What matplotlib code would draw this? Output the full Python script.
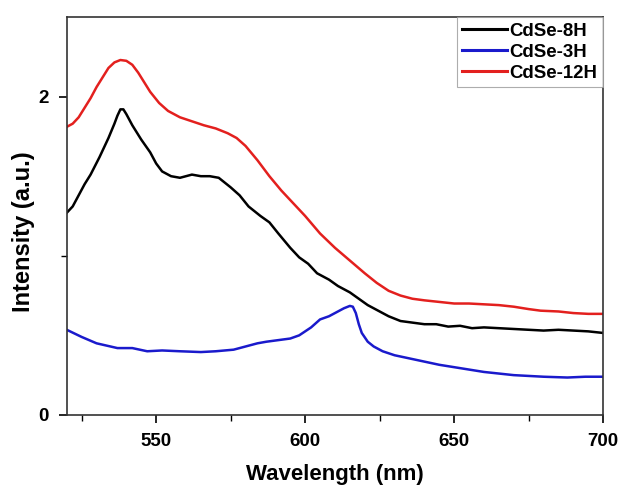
import matplotlib
matplotlib.use("Agg")
import matplotlib.pyplot as plt
from matplotlib.ticker import MultipleLocator

plt.rcParams["font.family"] = ["Liberation Sans", "DejaVu Sans"]
plt.rcParams["font.weight"] = "bold"

# =========================================================
# Data
# =========================================================

wl_8h = [520, 522, 524, 526, 528, 531, 534, 536, 537, 538, 539, 540, 542, 545, 548,
         550, 552, 555, 558, 560, 562, 565, 568, 571, 575, 578, 581, 585, 588,
         591, 595, 598, 601, 604, 608, 611, 615, 618, 621, 624, 628, 632, 636,
         640, 644, 648, 652, 656, 660, 665, 670, 675, 680, 685, 690, 695, 700]
int_8h = [1.27, 1.31, 1.38, 1.45, 1.51, 1.62, 1.74, 1.83, 1.88, 1.92, 1.92, 1.89, 1.82, 1.73, 1.65,
          1.58, 1.53, 1.50, 1.49, 1.50, 1.51, 1.50, 1.50, 1.49, 1.43, 1.38, 1.31, 1.25, 1.21,
          1.14, 1.05, 0.99, 0.95, 0.89, 0.85, 0.81, 0.77, 0.73, 0.69, 0.66, 0.62, 0.59, 0.58,
          0.57, 0.57, 0.555, 0.56, 0.545, 0.55, 0.545, 0.54, 0.535, 0.53, 0.535, 0.53, 0.525, 0.515]

wl_3h = [520, 525, 530, 537, 542, 547, 552, 558, 565, 570, 576, 580, 584, 587,
         591, 595, 598, 602, 605, 608, 611, 613, 615, 616, 617, 618, 619, 621,
         623, 626, 630, 635, 640, 645, 650, 655, 660, 665, 670, 675, 680, 688,
         694, 700]
int_3h = [0.535, 0.49, 0.45, 0.42, 0.42, 0.40, 0.405, 0.40, 0.395, 0.40, 0.41, 0.43, 0.45, 0.46,
          0.47, 0.48, 0.50, 0.55, 0.60, 0.62, 0.65, 0.67, 0.685, 0.68, 0.64, 0.57, 0.515, 0.46,
          0.43, 0.40, 0.375, 0.355, 0.335, 0.315, 0.30, 0.285, 0.27, 0.26, 0.25, 0.245, 0.24, 0.235,
          0.24, 0.24]

wl_12h = [520, 522, 524, 526, 528, 530, 532, 534, 536, 538, 540, 542, 544, 546,
          548, 551, 554, 558, 562, 566, 570, 574, 577, 580, 584, 588, 592, 596,
          600, 605, 610, 615, 620, 624, 628, 632, 636, 640, 645, 650, 655, 660,
          665, 670, 675, 679, 685, 690, 695, 700]
int_12h = [1.81, 1.83, 1.87, 1.93, 1.99, 2.06, 2.12, 2.18, 2.215, 2.23, 2.225, 2.20, 2.15, 2.09,
           2.03, 1.96, 1.91, 1.87, 1.845, 1.82, 1.80, 1.77, 1.74, 1.69, 1.60, 1.50, 1.41, 1.33,
           1.25, 1.14, 1.05, 0.97, 0.89, 0.83, 0.78, 0.75, 0.73, 0.72, 0.71, 0.70, 0.70, 0.695,
           0.69, 0.68, 0.665, 0.655, 0.65, 0.64, 0.635, 0.635]

SERIES = [
    ("CdSe-8H", wl_8h, int_8h, "#000000"),
    ("CdSe-3H", wl_3h, int_3h, "#1a1acc"),
    ("CdSe-12H", wl_12h, int_12h, "#e3201e"),
]


# =========================================================
# Plot
# =========================================================

fig = plt.figure(figsize=(6.18, 4.87), dpi=100)
ax = fig.add_axes([0.108, 0.148, 0.868, 0.817])

for label, x, y, color in SERIES:
    ax.plot(x, y, color=color, lw=1.8, label=label)

ax.set_xlim(520, 700)
ax.set_ylim(0, 2.5)
ax.xaxis.set_major_locator(MultipleLocator(50))
ax.xaxis.set_minor_locator(MultipleLocator(25))
ax.set_yticks([0, 2])
ax.set_yticks([1], minor=True)

ax.tick_params(which="major", direction="out", length=6, width=1.2,
               labelsize=13.5, pad=7)
ax.tick_params(which="minor", direction="out", length=4, width=1.0)
for lab in ax.get_xticklabels() + ax.get_yticklabels():
    lab.set_fontweight("bold")
for sp in ax.spines.values():
    sp.set_linewidth(1.2)
    sp.set_color("#333333")

ax.set_xlabel("Wavelength (nm)", fontsize=16, fontweight="bold", labelpad=10)
ax.set_ylabel("Intensity (a.u.)", fontsize=17, fontweight="bold")
ax.yaxis.set_label_coords(-0.06, 0.46)

leg = ax.legend(loc="upper right", frameon=True, fancybox=False,
                borderaxespad=0, handlelength=2.4, handletextpad=0.15,
                labelspacing=0.22, borderpad=0.3,
                prop={"weight": "bold", "size": 13.4})
leg.get_frame().set_edgecolor("#999999")
leg.get_frame().set_linewidth(0.8)
for line in leg.get_lines():
    line.set_linewidth(2.2)

fig.savefig("out.png", dpi=100)
